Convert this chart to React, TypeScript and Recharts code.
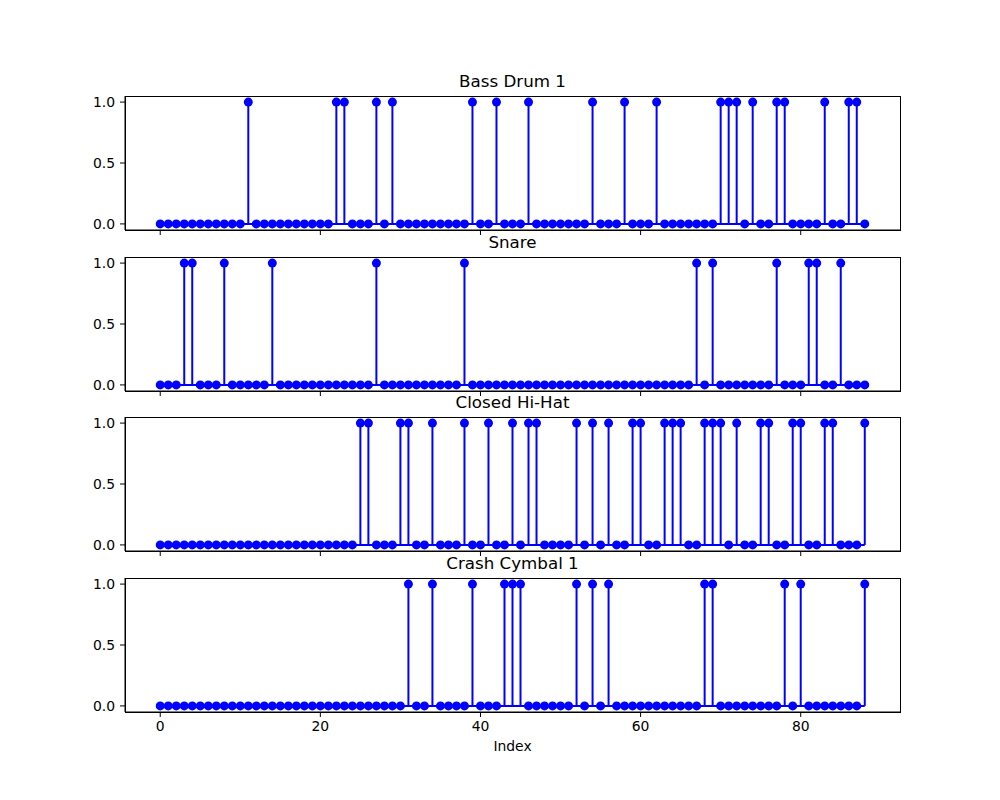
import { Bar, ComposedChart, Line, Scatter, XAxis, YAxis } from "recharts";

// step index on the x axis (0..88)
const stepIndex = Array.from({ length: 89 }, (_, i) => i);

// steps where each instrument is hit (value 1), all others are 0
const bassDrumHits = [11, 22, 23, 27, 29, 39, 42, 46, 54, 58, 62, 70, 71, 72, 74, 77, 78, 83, 86, 87];
const snareHits = [3, 4, 8, 14, 27, 38, 67, 69, 77, 81, 82, 85];
const closedHiHatHits = [
  25, 26, 30, 31, 34, 38, 41, 44, 46, 47, 52, 54, 56, 59, 60, 63, 64, 65, 68, 69, 70, 72, 75, 76, 79, 80, 83, 84, 88,
];
const crashCymbalHits = [31, 34, 39, 43, 44, 45, 52, 54, 56, 68, 69, 78, 80, 88];

const panelTitles = ["Bass Drum 1", "Snare", "Closed Hi-Hat", "Crash Cymbal 1"];
const xTicks = [0, 20, 40, 60, 80];
const yTicks = [0, 0.5, 1];

const BLUE = "#0000ff";
const FONT = "'DejaVu Sans', sans-serif";

function toRows(hits: number[]) {
  return stepIndex.map((i) => ({ index: i, value: hits.includes(i) ? 1 : 0, base: 0 }));
}

const panels = [bassDrumHits, snareHits, closedHiHatHits, crashCymbalHits].map((hits, i) => ({
  title: panelTitles[i],
  rows: toRows(hits),
}));

// axes tops in the figure (matplotlib 4-row layout)
const axesTops = [96, 257, 417, 578];

function Marker(props: any) {
  if (props.cx == null || props.cy == null) return null;
  return <circle cx={props.cx} cy={props.cy} r={4.5} fill={BLUE} />;
}

function StemPanel({ title, rows, top, last }: { title: string; rows: any[]; top: number; last: boolean }) {
  return (
    <>
      <div
        style={{
          position: "absolute",
          left: 125,
          width: 775,
          top: top - 24,
          textAlign: "center",
          fontSize: 16.7,
          lineHeight: "19px",
          color: "#000",
        }}
      >
        {title}
      </div>
      <div style={{ position: "absolute", left: 0, top: top - 30 }}>
        <ComposedChart
          width={1000}
          height={194}
          data={rows}
          margin={{ top: 30, right: 100, left: 85, bottom: 0 }}
        >
          <XAxis
            dataKey="index"
            type="number"
            domain={[-4.4, 92.4]}
            ticks={xTicks}
            allowDataOverflow
            height={30}
            stroke="#000"
            tickSize={5}
            tickMargin={4}
            tick={{ fontSize: 13.9, fill: "#000" }}
            tickFormatter={(v: number) => (last ? String(v) : "")}
          />
          <YAxis
            type="number"
            domain={[-0.05, 1.05]}
            ticks={yTicks}
            allowDataOverflow
            width={40}
            stroke="#000"
            tickSize={5}
            tickMargin={5}
            tick={{ fontSize: 13.9, fill: "#000" }}
            tickFormatter={(v: number) => v.toFixed(1)}
          />
          <Line dataKey="base" stroke={BLUE} strokeWidth={2} dot={false} isAnimationActive={false} />
          <Bar dataKey="value" fill={BLUE} barSize={2} isAnimationActive={false} />
          <Scatter dataKey="value" shape={Marker} isAnimationActive={false} />
        </ComposedChart>
      </div>
      {/* axes frame (matplotlib draws all four spines) */}
      <div
        style={{
          position: "absolute",
          left: 125,
          top: top,
          width: 776,
          height: 135,
          boxSizing: "border-box",
          border: "1px solid #000",
          pointerEvents: "none",
        }}
      />
    </>
  );
}

export default function App() {
  return (
    <div
      style={{
        position: "absolute",
        left: 0,
        top: 0,
        width: 1000,
        height: 800,
        background: "#fff",
        fontFamily: FONT,
        overflow: "hidden",
      }}
    >
      {panels.map((p, i) => (
        <StemPanel key={p.title} title={p.title} rows={p.rows} top={axesTops[i]} last={i === panels.length - 1} />
      ))}
      <div
        style={{
          position: "absolute",
          left: 125,
          width: 775,
          top: 738,
          textAlign: "center",
          fontSize: 13.9,
          lineHeight: "17px",
          color: "#000",
        }}
      >
        Index
      </div>
    </div>
  );
}
